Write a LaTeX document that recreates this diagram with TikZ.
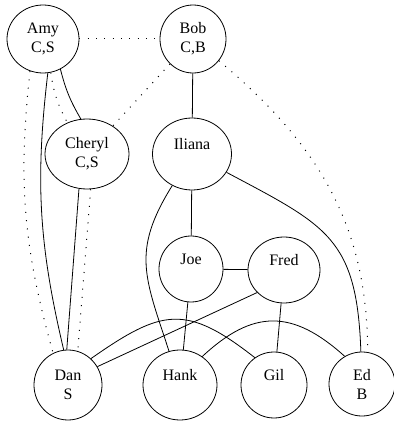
\documentclass[tikz,border=0pt]{standalone}
\usepackage{fontspec}
\setmainfont{Liberation Serif}
\usepackage{tikz}
\usetikzlibrary{shapes.geometric}
\tikzset{
    person/.style={ellipse, draw=black, line width=0.8pt, inner sep=0pt, align=center, font=\fontsize{16}{19}\selectfont},
    tie/.style={draw=black, line width=0.8pt},
    weak/.style={draw=black, line width=1pt, dash pattern=on 1pt off 7.3pt},
}
\begin{document}
\begin{tikzpicture}[x=1pt, y=1pt]
        \useasboundingbox (0,0) rectangle (394,421);
        \node [person, minimum width=72pt, minimum height=68pt] (amy) at (43,382) {Amy\\C,S};
        \node [person, minimum width=66pt, minimum height=68pt] (bob) at (193,382) {Bob\\C,B};
        \node [person, minimum width=84pt, minimum height=70pt] (cheryl) at (87,267) {Cheryl\\C,S};
        \node [person, minimum width=79pt, minimum height=72pt] (iliana) at (192,267) {Iliana\\\phantom{S}};
        \node [person, minimum width=64pt, minimum height=66pt] (joe) at (191,152) {Joe\\\phantom{S}};
        \node [person, minimum width=72pt, minimum height=66pt] (fred) at (284,151) {Fred\\\phantom{S}};
        \node [person, minimum width=68pt, minimum height=70pt] (dan) at (68,36) {Dan\\S};
        \node [person, minimum width=74pt, minimum height=70pt] (hank) at (180,36) {Hank\\\phantom{S}};
        \node [person, minimum width=66pt, minimum height=66pt] (gil) at (274,36) {Gil\\\phantom{S}};
        \node [person, minimum width=66pt, minimum height=64pt] (ed) at (362,37) {Ed\\B};
        \draw [weak] (amy) -- (bob);
        \draw [tie] (amy.-60) to[bend right=8] (cheryl.100);
        \draw [weak] (amy.-77) to[bend right=10] (cheryl.122);
        \draw [tie] (amy.-82) to[bend right=10] (dan.97);
        \draw [weak] (amy.-112) to[bend right=11] (dan.115);
        \draw [weak] (bob) -- (cheryl);
        \draw [tie] (bob) -- (iliana);
        \draw [weak] (bob.-40) to[out=-40, in=90] (ed.80);
        \draw [tie] (cheryl.-103) -- (dan.92);
        \draw [weak] (cheryl.-84) -- (dan.74);
        \draw [tie] (iliana) -- (joe);
        \draw [tie] (iliana) to[out=-122, in=108, looseness=1.2] (hank);
        \draw [tie] (iliana) to[out=-28, in=92, looseness=1.3] (ed);
        \draw [tie] (joe) -- (fred);
        \draw [tie] (joe) -- (hank);
        \draw [tie] (fred) -- (gil);
        \draw [tie] (fred.-140) -- (dan.32);
        \draw [tie] (dan.49) to[out=35, in=142, looseness=1.36] (gil.125);
        \draw [tie] (hank.52) to[out=43, in=138, looseness=1.26] (ed.122);
    \end{tikzpicture}
\end{document}
